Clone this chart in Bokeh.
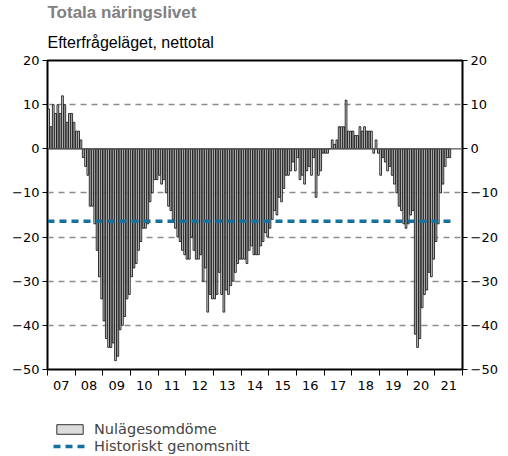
from bokeh.plotting import figure
from bokeh.layouts import column
from bokeh.models import (ColumnDataSource, FixedTicker, LinearAxis, Range1d, Span,
                          Legend, LegendItem, Title)
from bokeh.embed import file_html
from bokeh.resources import INLINE

# ---- data ----
year_labels = ["07", "08", "09", "10", "11", "12", "13", "14", "15", "16", "17", "18", "19", "20", "21"]
y_ticks = [20, 10, 0, -10, -20, -30, -40, -50]

v2007 = [9, 5, 10, 8, 10, 8, 12, 10, 6, 8, 8, 6]
v2008 = [4, 4, 2, -2, -4, -6, -13, -13, -17, -23, -29, -34]
v2009 = [-39, -43, -45, -45, -44, -48, -47, -41, -40, -38, -34, -33]
v2010 = [-29, -27, -26, -23, -21, -18, -18, -17, -12, -10, -7, -7]
v2011 = [-6, -8, -7, -10, -13, -14, -16, -18, -20, -21, -23, -24]
v2012 = [-25, -25, -20, -23, -25, -25, -24, -30, -27, -37, -33, -34]
v2013 = [-34, -33, -28, -33, -37, -32, -33, -31, -30, -28, -26, -25]
v2014 = [-25, -25, -26, -23, -22, -24, -24, -24, -22, -21, -19, -20]
v2015 = [-18, -16, -14, -15, -11, -12, -9, -6, -6, -5, -3, -5]
v2016 = [-2, -7, -6, -8, -5, -4, -6, -2, -11, -6, -5, -1]
v2017 = [-1, -1, 0, 2, 1, 2, 5, 5, 5, 11, 4, 4]
v2018 = [4, 3, 3, 5, 4, 5, 4, 4, 4, -1, 2, -1]
v2019 = [-6, -2, -3, -5, -4, -6, -8, -10, -13, -14, -17, -18]
v2020 = [-17, -15, -14, -42, -45, -43, -36, -33, -32, -28, -29, -25]
v2021 = [-21, -17, -10, -8, -4, -2, -2]

nulage = (v2007 + v2008 + v2009 + v2010 + v2011 + v2012 + v2013 + v2014 +
          v2015 + v2016 + v2017 + v2018 + v2019 + v2020 + v2021)
hist_avg = -16.4

n_years = len(year_labels)
months = [i + 0.5 for i in range(len(nulage))]
src = ColumnDataSource(dict(x=months, top=nulage))
avg_src = ColumnDataSource(dict(x=[0, len(nulage)], y=[hist_avg, hist_avg]))

TICK_FONT = "DejaVu Sans"
BAR_STYLE = dict(fill_color="#dcdcdc", line_color="black", line_width=0.8)
AVG_STYLE = dict(line_color="#13709f", line_width=3.5, line_dash="7 5")

p = figure(width=500, height=400, output_backend="svg", toolbar_location=None,
           title=None,
           x_range=Range1d(0, 12 * n_years), y_range=Range1d(-50, 20),
           min_border_left=47, min_border_right=31, min_border_top=59, min_border_bottom=31)

p.outline_line_color = "black"
p.outline_line_width = 2
p.background_fill_color = "white"
p.border_fill_color = "white"

# titles (subtitle first, then main title so that it sits on top)
p.add_layout(Title(text="Efterfrågeläget, nettotal", text_font="Liberation Sans",
                   text_font_size="16px", text_font_style="normal", text_color="black",
                   align="left", standoff=20), "above")
p.add_layout(Title(text="Totala näringslivet", text_font="Liberation Sans",
                   text_font_size="17px", text_font_style="bold", text_color="#808080",
                   align="left", standoff=0), "above")

# grid
p.xgrid.visible = False
p.ygrid.ticker = FixedTicker(ticks=[10, -10, -20, -30, -40])
p.ygrid.grid_line_color = "#8c8c8c"
p.ygrid.grid_line_dash = "6 5"
p.ygrid.grid_line_width = 1.5

bars = p.vbar(x="x", top="top", bottom=0, width=0.75, source=src, **BAR_STYLE)

p.add_layout(Span(location=0, dimension="width", line_color="#555555", line_width=1.2))

avg = p.line(x="x", y="y", source=avg_src, **AVG_STYLE)

# y axes
p.yaxis.ticker = FixedTicker(ticks=y_ticks)
right = LinearAxis(ticker=FixedTicker(ticks=y_ticks))
p.add_layout(right, "right")
for ax in p.yaxis:
    ax.major_tick_out = 5
    ax.major_tick_in = 0
    ax.minor_tick_line_color = None
    ax.axis_line_color = "black"
    ax.major_tick_line_color = "black"
    ax.major_label_text_font = TICK_FONT
    ax.major_label_text_font_size = "13px"
    ax.major_label_text_color = "black"
    ax.major_label_standoff = 3

# x axis: labels mid-year, ticks at year boundaries
mid = [12 * k + 6 for k in range(n_years)]
bounds = [12 * k for k in range(n_years + 1)]
xa = p.xaxis[0]
xa.ticker = FixedTicker(ticks=mid, minor_ticks=bounds)
xa.major_label_overrides = {m: lab for m, lab in zip(mid, year_labels)}
xa.major_tick_line_color = None
xa.minor_tick_line_color = "black"
xa.minor_tick_out = 6
xa.minor_tick_in = 0
xa.axis_line_color = "black"
xa.major_label_text_font = TICK_FONT
xa.major_label_text_font_size = "13px"
xa.major_label_text_color = "black"
xa.major_label_standoff = 5

# ---- legend in a separate strip below (same sources, ranges keep marks off-view) ----
lf = figure(width=500, height=56, output_backend="svg", toolbar_location=None,
            title=None, x_axis_type=None, y_axis_type=None,
            x_range=Range1d(1000, 1001), y_range=Range1d(1000, 1001),
            min_border_left=0, min_border_right=0, min_border_top=0, min_border_bottom=0)
lf.outline_line_color = None
lf.xgrid.visible = False
lf.ygrid.visible = False
lg_bar = lf.vbar(x="x", top="top", bottom=0, width=0.75, source=src, **BAR_STYLE)
lg_line = lf.line(x="x", y="y", source=avg_src, **AVG_STYLE)

legend = Legend(items=[LegendItem(label="Nulägesomdöme", renderers=[lg_bar]),
                       LegendItem(label="Historiskt genomsnitt", renderers=[lg_line])],
                location=(6, 2), orientation="vertical",
                border_line_color=None, background_fill_alpha=0,
                label_text_font=TICK_FONT, label_text_font_size="14.5px",
                label_height=17, glyph_width=33, glyph_height=12, spacing=0,
                padding=2, margin=0, label_standoff=8)
lf.add_layout(legend)

layout = column(p, lf, spacing=0)
open("out.html", "w").write(file_html(layout, INLINE))
